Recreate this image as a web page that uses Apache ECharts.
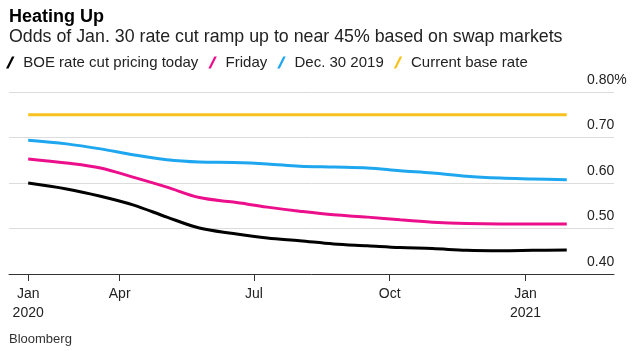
<!DOCTYPE html>
<html><head><meta charset="utf-8">
<script src="https://cdn.jsdelivr.net/npm/echarts@6/dist/echarts.min.js"></script>
<style>html,body{margin:0;padding:0;background:#fff}#c{width:641px;height:351px}</style>
</head><body><div id="c"></div>
<script>
const dates = ["2020-01-30","2020-02-25","2020-03-19","2020-04-10","2020-05-03","2020-05-25","2020-06-17","2020-07-10","2020-08-01","2020-08-24","2020-09-16","2020-10-08","2020-10-30","2020-11-22","2020-12-15","2021-01-06","2021-01-29"];
const boeToday = [0.600,0.587,0.571,0.552,0.525,0.501,0.489,0.479,0.473,0.466,0.462,0.458,0.456,0.452,0.451,0.452,0.453];
const friday   = [0.653,0.644,0.633,0.613,0.591,0.568,0.558,0.547,0.538,0.530,0.525,0.519,0.514,0.511,0.510,0.510,0.510];
const dec302019= [0.694,0.686,0.675,0.662,0.651,0.646,0.645,0.642,0.637,0.635,0.633,0.627,0.622,0.615,0.611,0.609,0.607];
const baseRate = [0.75,0.75,0.75,0.75,0.75,0.75,0.75,0.75,0.75,0.75,0.75,0.75,0.75,0.75,0.75,0.75,0.75];
const seriesNames = ["BOE rate cut pricing today","Friday","Dec. 30 2019","Current base rate"];
const xTickDates = ["2020-01-30","2020-04-01","2020-07-01","2020-10-01","2021-01-01"];
const xTickLabels = ["Jan\n2020","Apr","Jul","Oct","Jan\n2021"];
const yTicks = [0.4,0.5,0.6,0.7,0.8];
const yTickLabels = ["0.40","0.50","0.60","0.70","0.80%"];
const xRange = ["2020-01-17","2021-03-02"];

function dayIndex(s){const p=s.split('-').map(Number);return Math.round((Date.UTC(p[0],p[1]-1,p[2])-Date.UTC(2020,0,1))/86400000);}
const tickDays = xTickDates.map(dayIndex);
const mk = vals => dates.map((d,i)=>[dayIndex(d), vals[i]]);
const colors = ['#000000','#ec0f8c','#1ea7ef','#f7c21e'];
const icon = 'path://M0,12 L6,0 L8.5,0 L2.5,12 Z';
const font = '"Liberation Sans", Arial, sans-serif';

const chart = echarts.init(document.getElementById('c'), null, {renderer:'canvas'});
chart.setOption({
  animation:false,
  textStyle:{fontFamily:font},
  color:colors,
  title:[
    {text:'Heating Up', left:9, top:8, padding:0, textStyle:{fontFamily:font, fontSize:18, fontWeight:'bold', color:'#000'}},
    {text:'Odds of Jan. 30 rate cut ramp up to near 45% based on swap markets', left:9, top:28, padding:0, textStyle:{fontFamily:font, fontSize:17.8, fontWeight:'normal', color:'#222'}},
    {text:'Bloomberg', left:9, top:333, padding:0, textStyle:{fontFamily:font, fontSize:13, fontWeight:'normal', color:'#333'}}
  ],
  legend:{
    left:6, top:55, padding:0, itemWidth:16, itemHeight:12, itemGap:10, icon:icon,
    textStyle:{fontFamily:font, fontSize:15, color:'#222', padding:[0,0,0,0]},
    data:seriesNames
  },
  grid:{left:9, right:27, top:92, bottom:77},
  xAxis:{
    type:'value', min:dayIndex(xRange[0]), max:dayIndex(xRange[1]),
    axisLine:{show:true, lineStyle:{color:'#333', width:1}},
    axisTick:{show:true, customValues:tickDays, length:7, lineStyle:{color:'#333'}},
    axisLabel:{customValues:tickDays, fontSize:14, color:'#222', lineHeight:19, margin:11,
      formatter:v=>{const i=tickDays.indexOf(v);return i>=0?xTickLabels[i]:'';}},
    splitLine:{show:false}
  },
  yAxis:{
    type:'value', position:'right', min:0.4, max:0.8, interval:0.1,
    axisLine:{show:false}, axisTick:{show:false},
    splitLine:{show:true, lineStyle:{color:'#dcdcdc', width:1}},
    axisLabel:{margin:-27, fontSize:14, color:'#222', verticalAlign:'bottom', padding:[0,0,5,0],
      formatter:v=>{const i=yTicks.findIndex(t=>Math.abs(t-v)<1e-6);return i>=0?yTickLabels[i]:'';}}
  },
  series:[
    {name:seriesNames[0], type:'line', smooth:0.35, showSymbol:false, data:mk(boeToday), lineStyle:{width:3, color:colors[0]}, z:5},
    {name:seriesNames[1], type:'line', smooth:0.35, showSymbol:false, data:mk(friday), lineStyle:{width:3, color:colors[1]}, z:4},
    {name:seriesNames[2], type:'line', smooth:0.35, showSymbol:false, data:mk(dec302019), lineStyle:{width:3, color:colors[2]}, z:3},
    {name:seriesNames[3], type:'line', smooth:0.35, showSymbol:false, data:mk(baseRate), lineStyle:{width:3, color:colors[3]}, z:2}
  ]
});
</script></body></html>
